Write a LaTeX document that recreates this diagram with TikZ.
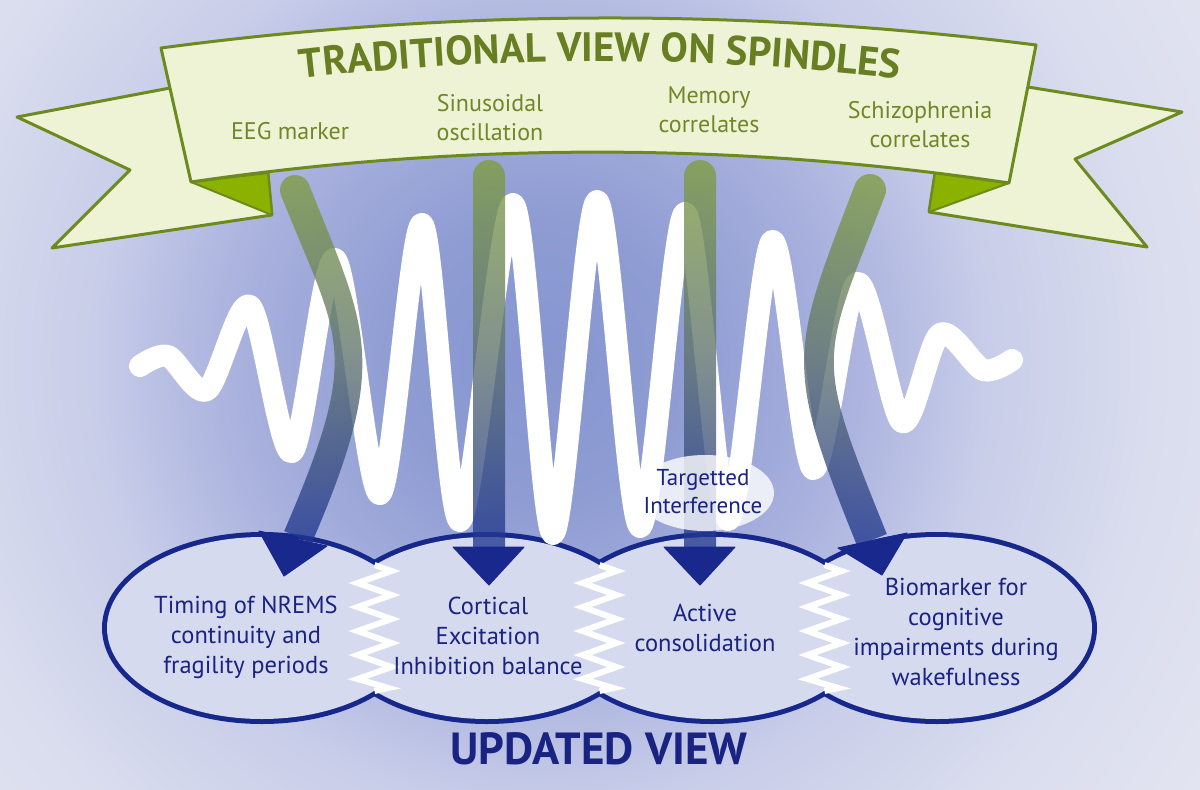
\documentclass[tikz,border=0pt]{standalone}
\usepackage{fontspec}
\setmainfont{PT Sans}
\usetikzlibrary{shapes.geometric,decorations.text}
\definecolor{bgA}{RGB}{135,150,208}
\definecolor{bgB}{RGB}{142,156,211}
\definecolor{bgC}{RGB}{170,178,222}
\definecolor{bgD}{RGB}{200,205,233}
\definecolor{bgE}{RGB}{218,221,238}
\definecolor{bgF}{RGB}{226,228,241}
\definecolor{bnFill}{RGB}{238,243,214}
\definecolor{bnLine}{RGB}{108,138,30}
\definecolor{bnFold}{RGB}{140,178,0}
\definecolor{bnText}{RGB}{112,135,40}
\definecolor{bnTitle}{RGB}{104,126,34}
\definecolor{navyL}{RGB}{22,40,140}
\definecolor{navyT}{RGB}{25,35,130}
\definecolor{ellFill}{RGB}{214,218,238}
\definecolor{arrG}{RGB}{128,158,62}
\definecolor{arrM}{RGB}{95,115,110}
\definecolor{arrB}{RGB}{30,52,145}
\definecolor{headC}{RGB}{24,40,140}
\pgfdeclareradialshading{bgshade}{\pgfpoint{0bp}{0bp}}{color(0bp)=(bgA); color(5bp)=(bgB); color(11bp)=(bgC); color(16bp)=(bgD); color(22bp)=(bgE); color(28bp)=(bgF); color(72bp)=(bgF)}
\newcommand\ttlfont{\fontsize{41pt}{41pt}\selectfont\bfseries}
\begin{document}
\begin{tikzpicture}[x=1pt,y=-1pt,
  banshape/.style={fill=bnFill, draw=bnLine, line width=3pt, line join=round},
  foldshape/.style={fill=bnFold, draw=bnLine, line width=2pt, line join=round},
  bantext/.style={font=\fontsize{24pt}{29pt}\selectfont, text=bnText, align=center, inner sep=0pt},
  elltext/.style={font=\fontsize{24.5pt}{30pt}\selectfont, text=navyT, align=center, inner sep=0pt},
  ellout/.style={ellipse, draw=navyL, line width=10pt, minimum width=310pt, minimum height=182pt, inner sep=0pt},
  ellin/.style={ellipse, fill=ellFill, minimum width=310pt, minimum height=182pt, inner sep=0pt},
  zig/.style={draw=white, line width=6pt, line join=miter},
  wave/.style={draw=white, line width=22pt, line cap=round, line join=round},
  shaft/.style={top color=arrG, bottom color=arrB, middle color=arrM, fill opacity=0.78},
  head/.style={fill=headC, draw=headC, line width=1pt, line join=round}]
\useasboundingbox (0,0) rectangle (1200,790);
% background
\begin{scope}
\clip (0,0) rectangle (1200,790);
\shade[shading=bgshade] (-160,-340) rectangle (1240,1060);
\end{scope}
% banner tails
\path[banshape] (170,88) -- (17,117) -- (130,170) -- (52,248) -- (272,215) -- (268,173) -- (200,150) -- cycle;
\path[banshape] (1028,87) -- (1182,112) -- (1075,159) -- (1147,247) -- (929,212) -- (935,173) -- (1000,150) -- cycle;
\path[foldshape] (191,182) -- (268,173) -- (272,215) -- cycle;
\path[foldshape] (1009,183) -- (935,173) -- (929,212) -- cycle;
% banner body
\path[banshape] (161,48) .. controls (453,9) and (744,8) .. (1036,45) -- (1009,183) .. controls (736,142) and (464,142) .. (191,182) -- cycle;
\path[decorate, decoration={text along path, text={|\ttlfont|TRADITIONAL VIEW ON SPINDLES}, text align=center, text color=bnTitle}] (250,85) .. controls (483.3,53.4) and (716.7,53.4) .. (950,85);
\node[bantext] (b1) at (290,131.5) {EEG marker};
\node[bantext] (b2) at (490,117.5) {Sinusoidal\\oscillation};
\node[bantext] (b3) at (709,110) {Memory\\correlates};
\node[bantext] (b4) at (920,124.5) {Schizophrenia\\correlates};
% ellipses
\foreach \i/\x in {1/262,2/487,3/712,4/937} \node[ellout] (o\i) at (\x,628) {};
\foreach \i/\x in {1/262,2/487,3/712,4/937} \node[ellin] (e\i) at (\x,628) {};
% zigzags
\foreach \xc in {374.5,599.5,824.5}
  \draw[zig] (\xc,565) -- (\xc+17,571) -- (\xc-17,583) -- (\xc+17,595) -- (\xc-17,607) -- (\xc+17,619) -- (\xc-17,631) -- (\xc+17,643) -- (\xc-17,655) -- (\xc+17,667) -- (\xc-17,679) -- (\xc+14,688) -- (\xc,691);
% wave
\draw[wave] plot[smooth, tension=0.5] coordinates {(140,366) (168,356) (207,390) (250,306) (292,452) (335,259) (380,494) (422,224) (460,521) (513,204) (553,534) (597,201) (640,527) (685,213) (728,520) (772,241) (813,469) (857,283) (902,422) (940,334) (983,370) (1012,360)};
% arrow shafts
\shade[shaft] (281.1,195.6) .. controls (278.0,187.9) and (281.7,179.2) .. (289.4,176.1) .. controls (297.1,173.0) and (305.8,176.7) .. (308.9,184.4) .. controls (367.5,330.9) and (390.6,360.2) .. (311.8,542.9) -- (284.2,531.1) .. controls (363,348.4) and (339.7,342.1) .. (281.1,195.6) -- cycle;
\shade[shaft] (473,548) -- (473,176) .. controls (473,167.2) and (480.2,160) .. (489,160) .. controls (497.8,160) and (505,167.2) .. (505,176) -- (505,548) -- cycle;
\shade[shaft] (684,548) -- (684,176) .. controls (684,167.2) and (691.2,160) .. (700,160) .. controls (708.8,160) and (716,167.2) .. (716,176) -- (716,548) -- cycle;
\shade[shaft] (855.1,184.2) .. controls (858.3,176.0) and (867.5,171.9) .. (875.8,175.1) .. controls (884.0,178.3) and (888.1,187.6) .. (884.9,195.8) .. controls (819.7,364.9) and (813.2,351.7) .. (886.8,534) -- (857.2,546) .. controls (783.6,363.7) and (789.9,353.3) .. (855.1,184.2) -- cycle;
% arrow heads
\path[head] (259,531) -- (327,546) -- (284,576) -- cycle;
\path[head] (453,547) -- (524,547) -- (489,585) -- cycle;
\path[head] (664,547) -- (735,547) -- (700,585) -- cycle;
\path[head] (838,548) -- (907,533) -- (882,575) -- cycle;
% targetted interference
\node[ellipse, fill=white, fill opacity=0.8, minimum width=138pt, minimum height=76pt, inner sep=0pt] (tie) at (705,493) {};
\node[font=\fontsize{23pt}{28pt}\selectfont, text=navyT, align=center, inner sep=0pt] (ti) at (703,491.5) {Targetted\\Interference};
% ellipse texts
\node[elltext] (t1) at (246,637.5) {Timing of NREMS\\continuity and\\fragility periods};
\node[elltext] (t2) at (488,635.5) {Cortical\\Excitation\\Inhibition balance};
\node[elltext] (t3) at (705,627.5) {Active\\consolidation};
\node[elltext] (t4) at (956,631.5) {Biomarker for\\cognitive\\impairments during\\wakefulness};
\node[font=\fontsize{45pt}{45pt}\selectfont\bfseries, text=navyT, inner sep=0pt] (upd) at (599,749) {UPDATED VIEW};
\end{tikzpicture}
\end{document}
